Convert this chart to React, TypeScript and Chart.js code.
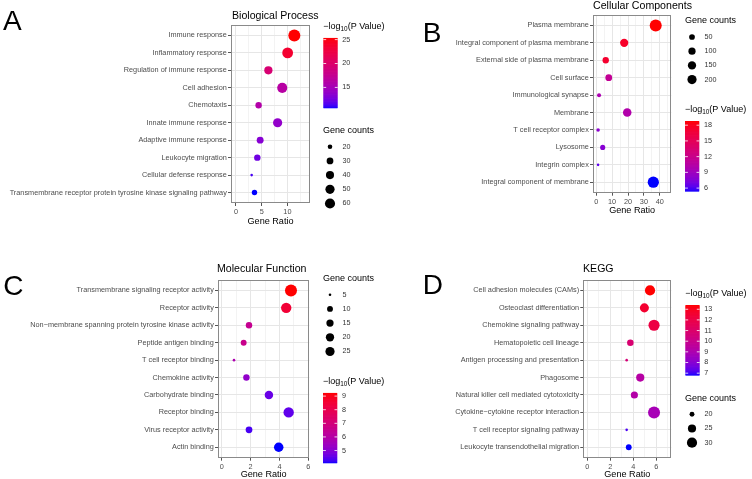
import { useEffect, useRef } from "react";
import { Chart, registerables } from "chart.js";

Chart.register(...registerables);

const FONT = '"Liberation Sans", Arial, Helvetica, sans-serif';
const W = 752;
const H = 479;

// ---------------- Biological Process ----------------
const bpCategories = [
  "Immune response",
  "Inflammatory response",
  "Regulation of immune response",
  "Cell adhesion",
  "Chemotaxis",
  "Innate immune response",
  "Adaptive immune response",
  "Leukocyte migration",
  "Cellular defense response",
  "Transmembrane receptor protein tyrosine kinase signaling pathway",
];
const bpGeneRatio = [11.35, 10.05, 6.3, 9.0, 4.4, 8.1, 4.7, 4.15, 3.05, 3.6];
const bpGeneCounts = [84, 68, 41, 60, 28, 50, 31, 28, 17, 23];
const bpLogP = [25.4, 23.6, 19.5, 16.3, 16.0, 13.9, 13.3, 12.4, 11.3, 10.65];
const bpXTicks = [0, 5, 10];
const bpColorBreaks = [15, 20, 25];
const bpSizeBreaks = [20, 30, 40, 50, 60];

// ---------------- Cellular Components ----------------
const ccCategories = [
  "Plasma membrane",
  "Integral component of plasma membrane",
  "External side of plasma membrane",
  "Cell surface",
  "Immunological synapse",
  "Membrane",
  "T cell receptor complex",
  "Lysosome",
  "Integrin complex",
  "Integral component of membrane",
];
const ccGeneRatio = [37.4, 17.6, 6.0, 7.9, 1.8, 19.5, 1.2, 4.1, 1.2, 35.9];
const ccGeneCounts = [400, 148, 69, 85, 15, 163, 10, 35, 6, 340];
const ccLogP = [18.8, 17.5, 17.2, 11.4, 9.7, 10.1, 8.0, 7.8, 6.4, 5.35];
const ccXTicks = [0, 10, 20, 30, 40];
const ccColorBreaks = [6, 9, 12, 15, 18];
const ccSizeBreaks = [50, 100, 150, 200];

// ---------------- Molecular Function ----------------
const mfCategories = [
  "Transmembrane signaling receptor activity",
  "Receptor activity",
  "Non\u2212membrane spanning protein tyrosine kinase activity",
  "Peptide antigen binding",
  "T cell receptor binding",
  "Chemokine activity",
  "Carbohydrate binding",
  "Receptor binding",
  "Virus receptor activity",
  "Actin binding",
];
const mfGeneRatio = [4.8, 4.47, 1.89, 1.52, 0.85, 1.71, 3.27, 4.64, 1.89, 3.95];
const mfGeneCounts = [46, 33, 12, 10, 5, 12, 21, 33, 13, 27];
const mfLogP = [9.25, 8.5, 6.5, 6.6, 5.8, 5.2, 4.6, 4.5, 4.3, 4.07];
const mfXTicks = [0, 2, 4, 6];
const mfColorBreaks = [5, 6, 7, 8, 9];
const mfSizeBreaks = [5, 10, 15, 20, 25];

// ---------------- KEGG ----------------
const keggCategories = [
  "Cell adhesion molecules (CAMs)",
  "Osteoclast differentiation",
  "Chemokine signaling pathway",
  "Hematopoietic cell lineage",
  "Antigen processing and presentation",
  "Phagosome",
  "Natural killer cell mediated cytotoxicity",
  "Cytokine\u2212cytokine receptor interaction",
  "T cell receptor signaling pathway",
  "Leukocyte transendothelial migration",
];
const keggGeneRatio = [5.45, 4.96, 5.8, 3.74, 3.42, 4.6, 4.09, 5.8, 3.42, 3.6];
const keggGeneCounts = [30, 27, 33, 22, 19, 25, 23, 36, 19, 21];
const keggLogP = [13.4, 12.6, 12.1, 10.8, 10.6, 9.3, 9.2, 8.8, 7.1, 6.78];
const keggXTicks = [0, 2, 4, 6];
const keggColorBreaks = [7, 8, 9, 10, 11, 12, 13];
const keggSizeBreaks = [20, 25, 30];

// ---------------- colour gradient (Lab, blue -> red) ----------------
function toLin(c: number) {
  c /= 255;
  return c <= 0.04045 ? c / 12.92 : Math.pow((c + 0.055) / 1.055, 2.4);
}
function fromLin(c: number) {
  const v = c <= 0.0031308 ? 12.92 * c : 1.055 * Math.pow(c, 1 / 2.4) - 0.055;
  return Math.round(Math.max(0, Math.min(1, v)) * 255);
}
const XN = 0.95047, YN = 1.0, ZN = 1.08883;
function rgbToLab(rgb: number[]) {
  const R = toLin(rgb[0]), G = toLin(rgb[1]), B = toLin(rgb[2]);
  const X = (0.4124 * R + 0.3576 * G + 0.1805 * B) / XN;
  const Y = (0.2126 * R + 0.7152 * G + 0.0722 * B) / YN;
  const Z = (0.0193 * R + 0.1192 * G + 0.9505 * B) / ZN;
  const f = (t: number) => (t > 0.008856 ? Math.cbrt(t) : 7.787 * t + 16 / 116);
  const fx = f(X), fy = f(Y), fz = f(Z);
  return [116 * fy - 16, 500 * (fx - fy), 200 * (fy - fz)];
}
function labToRgb(L: number, a: number, b: number) {
  const fy = (L + 16) / 116;
  const fx = fy + a / 500;
  const fz = fy - b / 200;
  const inv = (t: number) => (t * t * t > 0.008856 ? t * t * t : (t - 16 / 116) / 7.787);
  const X = XN * inv(fx), Y = YN * inv(fy), Z = ZN * inv(fz);
  const R = 3.2406 * X - 1.5372 * Y - 0.4986 * Z;
  const G = -0.9689 * X + 1.8758 * Y + 0.0415 * Z;
  const B = 0.0557 * X - 0.204 * Y + 1.057 * Z;
  return `rgb(${fromLin(R)},${fromLin(G)},${fromLin(B)})`;
}
const LAB_LOW = rgbToLab([0, 0, 255]);
const LAB_HIGH = rgbToLab([255, 0, 0]);
function gradient(t: number) {
  t = Math.max(0, Math.min(1, t));
  return labToRgb(
    LAB_LOW[0] + (LAB_HIGH[0] - LAB_LOW[0]) * t,
    LAB_LOW[1] + (LAB_HIGH[1] - LAB_LOW[1]) * t,
    LAB_LOW[2] + (LAB_HIGH[2] - LAB_LOW[2]) * t
  );
}

// ---------------- panel layout ----------------
type Panel = {
  letter: string;
  letterX: number;
  letterY: number;
  title: string;
  titleX: number;
  titleY: number;
  cats: string[];
  ratio: number[];
  counts: number[];
  logp: number[];
  xTicks: number[];
  colorBreaks: number[];
  sizeBreaks: number[];
  xMin: number;
  xMax: number;
  plot: { l: number; t: number; r: number; b: number };
  xTitleY: number;
  cbX: number;
  cbTitleY: number;
  slX: number;
  slTitleY: number;
};

const panels: Panel[] = [
  {
    letter: "A", letterX: 3, letterY: 30,
    title: "Biological Process", titleX: 232, titleY: 16,
    cats: bpCategories, ratio: bpGeneRatio, counts: bpGeneCounts, logp: bpLogP,
    xTicks: bpXTicks, colorBreaks: bpColorBreaks, sizeBreaks: bpSizeBreaks,
    xMin: -0.97, xMax: 14.4,
    plot: { l: 231, t: 25, r: 310, b: 203 },
    xTitleY: 221.7,
    cbX: 323.3, cbTitleY: 26.7,
    slX: 323, slTitleY: 130.7,
  },
  {
    letter: "B", letterX: 422.7, letterY: 41.7,
    title: "Cellular Components", titleX: 593, titleY: 5.6,
    cats: ccCategories, ratio: ccGeneRatio, counts: ccGeneCounts, logp: ccLogP,
    xTicks: ccXTicks, colorBreaks: ccColorBreaks, sizeBreaks: ccSizeBreaks,
    xMin: -2.0, xMax: 47.2,
    plot: { l: 593, t: 15, r: 671.3, b: 192.7 },
    xTitleY: 210,
    cbX: 685, cbTitleY: 110,
    slX: 685, slTitleY: 21,
  },
  {
    letter: "C", letterX: 3.3, letterY: 294.5,
    title: "Molecular Function", titleX: 217, titleY: 269.3,
    cats: mfCategories, ratio: mfGeneRatio, counts: mfGeneCounts, logp: mfLogP,
    xTicks: mfXTicks, colorBreaks: mfColorBreaks, sizeBreaks: mfSizeBreaks,
    xMin: -0.26, xMax: 6.07,
    plot: { l: 218, t: 280, r: 309.3, b: 457.7 },
    xTitleY: 474,
    cbX: 323, cbTitleY: 381.7,
    slX: 323, slTitleY: 278.7,
  },
  {
    letter: "D", letterX: 422.7, letterY: 294.3,
    title: "KEGG", titleX: 583, titleY: 269.3,
    cats: keggCategories, ratio: keggGeneRatio, counts: keggGeneCounts, logp: keggLogP,
    xTicks: keggXTicks, colorBreaks: keggColorBreaks, sizeBreaks: keggSizeBreaks,
    xMin: -0.35, xMax: 7.3,
    plot: { l: 583.3, t: 280, r: 671.3, b: 457.7 },
    xTitleY: 474,
    cbX: 685.3, cbTitleY: 294,
    slX: 685, slTitleY: 398.3,
  },
];

const TICK_FONT = 7.3;
const LEGEND_FONT = 7.2;
const LEGEND_TITLE_FONT = 9;

function makeConfig(p: Panel): any {
  const n = p.cats.length;
  const sMin = Math.min(...p.counts);
  const sMax = Math.max(...p.counts);
  const vMin = Math.min(...p.logp);
  const vMax = Math.max(...p.logp);
  const radius = (c: number) =>
    1.3 + 4.7 * Math.sqrt(Math.max(0, (c - sMin) / (sMax - sMin)));
  const colorOf = (v: number) => gradient((v - vMin) / (vMax - vMin));

  const step = p.xTicks[1] - p.xTicks[0];
  const gridVals: number[] = [];
  for (let v = p.xTicks[0] - step; v <= p.xMax + 1e-9; v += step / 2) {
    const rv = Math.round(v * 1000) / 1000;
    if (rv >= p.xMin) gridVals.push(rv);
  }
  const isMajor = (v: number) => p.xTicks.includes(v);

  const decor = {
    id: "decor" + p.letter,
    beforeDatasetsDraw(chart: any) {
      const { ctx, chartArea: a } = chart;
      ctx.save();
      ctx.strokeStyle = "#8a8a8a";
      ctx.lineWidth = 1;
      ctx.strokeRect(
        Math.round(a.left) + 0.5,
        Math.round(a.top) + 0.5,
        Math.round(a.right - a.left) - 1,
        Math.round(a.bottom - a.top) - 1
      );
      ctx.restore();
    },
    afterDraw(chart: any) {
      const { ctx, chartArea: a } = chart;
      ctx.save();
      ctx.fillStyle = "#000";
      ctx.textAlign = "left";
      ctx.textBaseline = "alphabetic";
      ctx.font = `28px ${FONT}`;
      ctx.fillText(p.letter, p.letterX, p.letterY);

      ctx.textBaseline = "middle";
      ctx.font = `10.6px ${FONT}`;
      ctx.fillText(p.title, p.titleX, p.titleY);

      ctx.textAlign = "center";
      ctx.font = `9.1px ${FONT}`;
      ctx.fillText("Gene Ratio", (a.left + a.right) / 2, p.xTitleY);

      // colour bar legend
      ctx.textAlign = "left";
      ctx.font = `${LEGEND_TITLE_FONT}px ${FONT}`;
      let tx = p.cbX;
      ctx.fillText("\u2212log", tx, p.cbTitleY);
      tx += ctx.measureText("\u2212log").width;
      ctx.font = `6.4px ${FONT}`;
      ctx.fillText("10", tx, p.cbTitleY + 2.6);
      tx += ctx.measureText("10").width;
      ctx.font = `${LEGEND_TITLE_FONT}px ${FONT}`;
      ctx.fillText("(P Value)", tx, p.cbTitleY);

      const top = p.cbTitleY + 11;
      const h = 70.5;
      const w = 14.4;
      const x = p.cbX;
      ctx.save();
      ctx.beginPath();
      ctx.rect(x, top, w, h);
      ctx.clip();
      const N = 120;
      for (let i = 0; i < N; i++) {
        const t = 1 - (i + 0.5) / N;
        ctx.fillStyle = gradient(t);
        ctx.fillRect(x, top + (i * h) / N, w, h / N + 0.7);
      }
      ctx.restore();
      ctx.font = `${LEGEND_FONT}px ${FONT}`;
      for (const b of p.colorBreaks) {
        const y = top + ((vMax - b) / (vMax - vMin)) * h;
        ctx.strokeStyle = "#ffffff";
        ctx.lineWidth = 0.8;
        ctx.beginPath();
        ctx.moveTo(x, y);
        ctx.lineTo(x + w * 0.2, y);
        ctx.moveTo(x + w * 0.8, y);
        ctx.lineTo(x + w, y);
        ctx.stroke();
        ctx.fillStyle = "#333";
        ctx.fillText(String(b), x + 19, y);
      }

      // size legend
      ctx.fillStyle = "#000";
      ctx.font = `${LEGEND_TITLE_FONT}px ${FONT}`;
      ctx.fillText("Gene counts", p.slX, p.slTitleY);
      ctx.font = `${LEGEND_FONT}px ${FONT}`;
      p.sizeBreaks.forEach((b, i) => {
        const y = p.slTitleY + 16 + i * 14.2;
        ctx.fillStyle = "#000";
        ctx.beginPath();
        ctx.arc(p.slX + 7, y, radius(b), 0, Math.PI * 2);
        ctx.fill();
        ctx.fillStyle = "#333";
        ctx.fillText(String(b), p.slX + 19.5, y);
      });
      ctx.restore();
    },
  };

  return {
    type: "bubble",
    data: {
      datasets: [
        {
          data: p.cats.map((_, i) => ({ x: p.ratio[i], y: i, r: radius(p.counts[i]) })),
          backgroundColor: p.logp.map(colorOf),
          borderWidth: 0,
          hoverBorderWidth: 0,
        },
      ],
    },
    options: {
      responsive: false,
      animation: false,
      events: [],
      layout: { padding: { left: 0, top: p.plot.t, right: W - p.plot.r, bottom: 0 } },
      plugins: {
        legend: { display: false },
        tooltip: { enabled: false },
        title: { display: false },
      },
      scales: {
        x: {
          type: "linear",
          min: p.xMin,
          max: p.xMax,
          afterBuildTicks: (s: any) => {
            s.ticks = gridVals.map((v) => ({ value: v }));
          },
          afterFit: (s: any) => {
            s.height = H - p.plot.b;
          },
          border: { display: false },
          grid: {
            color: (c: any) => (c.tick && isMajor(c.tick.value) ? "#e6e6e6" : "#f3f3f3"),
            lineWidth: 1,
            tickLength: 3,
            tickWidth: 1,
            tickColor: (c: any) =>
              c.tick && isMajor(c.tick.value) ? "#555" : "rgba(0,0,0,0)",
          },
          ticks: {
            autoSkip: false,
            maxRotation: 0,
            padding: 1.5,
            color: "#4d4d4d",
            font: { family: FONT, size: TICK_FONT },
            callback: (v: any) => (isMajor(v) ? String(v) : ""),
          },
        },
        y: {
          type: "linear",
          reverse: true,
          min: -0.6,
          max: n - 1 + 0.6,
          afterBuildTicks: (s: any) => {
            s.ticks = p.cats.map((_, i) => ({ value: i }));
          },
          afterFit: (s: any) => {
            s.width = p.plot.l;
          },
          border: { display: false },
          grid: {
            color: "#e6e6e6",
            lineWidth: 1,
            tickLength: 3,
            tickWidth: 1,
            tickColor: "#555",
          },
          ticks: {
            autoSkip: false,
            padding: 1.2,
            color: "#4d4d4d",
            font: { family: FONT, size: TICK_FONT },
            callback: (v: any) => p.cats[v] ?? "",
          },
        },
      },
    },
    plugins: [decor],
  };
}

export default function App() {
  const refs = useRef<(HTMLCanvasElement | null)[]>([]);
  useEffect(() => {
    const charts = panels.map((p, i) => new Chart(refs.current[i] as HTMLCanvasElement, makeConfig(p)));
    return () => charts.forEach((c) => c.destroy());
  }, []);
  return (
    <div style={{ position: "absolute", left: 0, top: 0, width: W, height: H, background: "#fff" }}>
      {panels.map((p, i) => (
        <canvas
          key={p.letter}
          ref={(el) => {
            refs.current[i] = el;
          }}
          width={W}
          height={H}
          style={{ position: "absolute", left: 0, top: 0, width: W, height: H }}
        />
      ))}
    </div>
  );
}
